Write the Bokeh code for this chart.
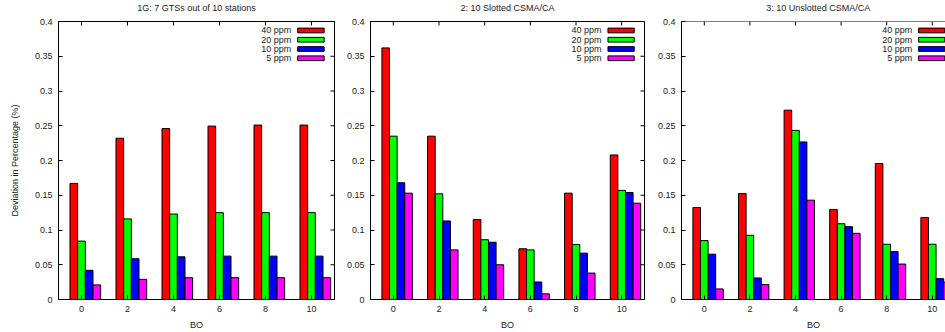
import math
from bokeh.plotting import figure
from bokeh.models import ColumnDataSource, FixedTicker, Range1d, Label, BoxAnnotation
from bokeh.layouts import row
from bokeh.transform import dodge
from bokeh.embed import file_html
from bokeh.resources import INLINE

# ---------------- data ----------------
bo = [0, 2, 4, 6, 8, 10]
series_labels = ["40 ppm", "20 ppm", "10 ppm", "5 ppm"]
series_colors = ["#ff0000", "#00ff00", "#0000ff", "#ff00ff"]

titles = ["1G: 7 GTSs out of 10 stations", "2: 10 Slotted CSMA/CA", "3: 10 Unslotted CSMA/CA"]

gts_40 = [0.167, 0.232, 0.246, 0.2495, 0.251, 0.251]
gts_20 = [0.084, 0.116, 0.123, 0.125, 0.125, 0.125]
gts_10 = [0.042, 0.0586, 0.0614, 0.0624, 0.0624, 0.0624]
gts_5 = [0.021, 0.029, 0.0314, 0.0314, 0.0314, 0.0314]

slot_40 = [0.362, 0.235, 0.115, 0.073, 0.153, 0.208]
slot_20 = [0.235, 0.152, 0.086, 0.0714, 0.079, 0.157]
slot_10 = [0.168, 0.113, 0.0824, 0.0252, 0.0667, 0.154]
slot_5 = [0.153, 0.0714, 0.050, 0.0081, 0.038, 0.1386]

unslot_40 = [0.1324, 0.1524, 0.2724, 0.1295, 0.1957, 0.118]
unslot_20 = [0.0848, 0.0924, 0.2433, 0.109, 0.0795, 0.0795]
unslot_10 = [0.0652, 0.031, 0.2267, 0.1048, 0.069, 0.030]
unslot_5 = [0.0152, 0.0214, 0.1429, 0.0952, 0.051, 0.025]

x_ticks = [0, 2, 4, 6, 8, 10]
y_ticks = [0, 0.05, 0.1, 0.15, 0.2, 0.25, 0.3, 0.35, 0.4]
y_tick_labels = ["0", "0.05", "0.1", "0.15", "0.2", "0.25", "0.3", "0.35", "0.4"]
x_label = "BO"
y_label = "Deviation in Percentage (%)"

FONT = "Liberation Sans"
FS = "9px"
TXT = "#222222"

panels = [
    (titles[0], [gts_40, gts_20, gts_10, gts_5]),
    (titles[1], [slot_40, slot_20, slot_10, slot_5]),
    (titles[2], [unslot_40, unslot_20, unslot_10, unslot_5]),
]

bar_w = 1.0 / 3.0
offsets = [-1.0 / 3.0, 0.0, 1.0 / 3.0, 2.0 / 3.0]


def style_axis(ax):
    ax.major_tick_in = 4
    ax.major_tick_out = 0
    ax.minor_tick_in = 0
    ax.minor_tick_out = 0
    ax.major_tick_line_color = "black"
    ax.axis_line_color = "black"
    ax.major_label_text_font = FONT
    ax.major_label_text_font_size = FS
    ax.major_label_text_color = TXT
    ax.major_label_standoff = 6
    ax.axis_label_text_font = FONT
    ax.axis_label_text_font_size = FS
    ax.axis_label_text_font_style = "normal"
    ax.axis_label_text_color = TXT


def make_panel(idx, title, vals, width, bl, br, x_end, full_border):
    p = figure(width=width, height=332, output_backend="svg", toolbar_location=None,
               x_range=Range1d(-1, x_end), y_range=Range1d(0, 0.4),
               min_border_left=bl, min_border_right=br, min_border_top=21, min_border_bottom=31)
    p.xgrid.visible = False
    p.ygrid.visible = False
    p.background_fill_color = "white"
    p.border_fill_color = "white"
    if full_border:
        p.outline_line_color = "black"
        p.outline_line_width = 1
    else:
        p.outline_line_color = None

    # panel title, centred over the (full) x range, just above the frame
    p.add_layout(Label(x=5, y=0.4, y_offset=14, text=title, text_align="center",
                       text_baseline="alphabetic", text_font=FONT, text_font_size=FS,
                       text_color=TXT), "above")

    data = {"bo": bo}
    for i, v in enumerate(vals):
        data["s%d" % i] = v
    src = ColumnDataSource(data)
    for i in range(4):
        p.vbar(x=dodge("bo", offsets[i], range=p.x_range), top="s%d" % i, width=bar_w,
               bottom=0, source=src, fill_color=series_colors[i], line_color="black", line_width=1)

    p.xaxis.ticker = FixedTicker(ticks=x_ticks)
    p.yaxis.ticker = FixedTicker(ticks=y_ticks)
    p.yaxis.major_label_overrides = {t: l for t, l in zip(y_ticks, y_tick_labels)}
    style_axis(p.xaxis[0])
    style_axis(p.yaxis[0])
    p.xaxis.axis_label = x_label
    p.xaxis.axis_label_standoff = 5
    if idx == 0:
        p.yaxis.axis_label = y_label
        p.yaxis.axis_label_standoff = 12

    # mirrored ticks (gnuplot style)
    p.ray(x=x_ticks, y=[0.4] * len(x_ticks), length=4, length_units="screen",
          angle=-math.pi / 2, line_color="black", line_width=1)
    if not full_border:
        p.ray(x=[-1], y=[0.4], length=0, angle=0, line_color="black", line_width=1)
    if full_border:
        p.ray(x=[x_end] * len(y_ticks), y=y_ticks, length=4, length_units="screen",
              angle=math.pi, line_color="black", line_width=1)

    # legend (gnuplot style: text then swatch)
    for i, lab in enumerate(series_labels):
        yc = 0.3871 - i * 0.01333
        p.add_layout(Label(x=9.12, y=yc, text=lab, text_align="right", text_baseline="middle",
                           text_font=FONT, text_font_size=FS, text_color=TXT))
        p.add_layout(BoxAnnotation(left=9.4, right=10.55, bottom=yc - 0.0034, top=yc + 0.0034,
                                   fill_color=series_colors[i], fill_alpha=1.0,
                                   line_color="black", line_width=1, line_alpha=1.0))
    return p


p1 = make_panel(0, panels[0][0], panels[0][1], 340, 58, 6, 11, True)
p2 = make_panel(1, panels[1][0], panels[1][1], 310, 30, 6, 11, True)
p3 = make_panel(2, panels[2][0], panels[2][1], 295, 31, 0, 10.58, False)

layout = row(p1, p2, p3, spacing=0)
open("out.html", "w").write(file_html(layout, INLINE))
